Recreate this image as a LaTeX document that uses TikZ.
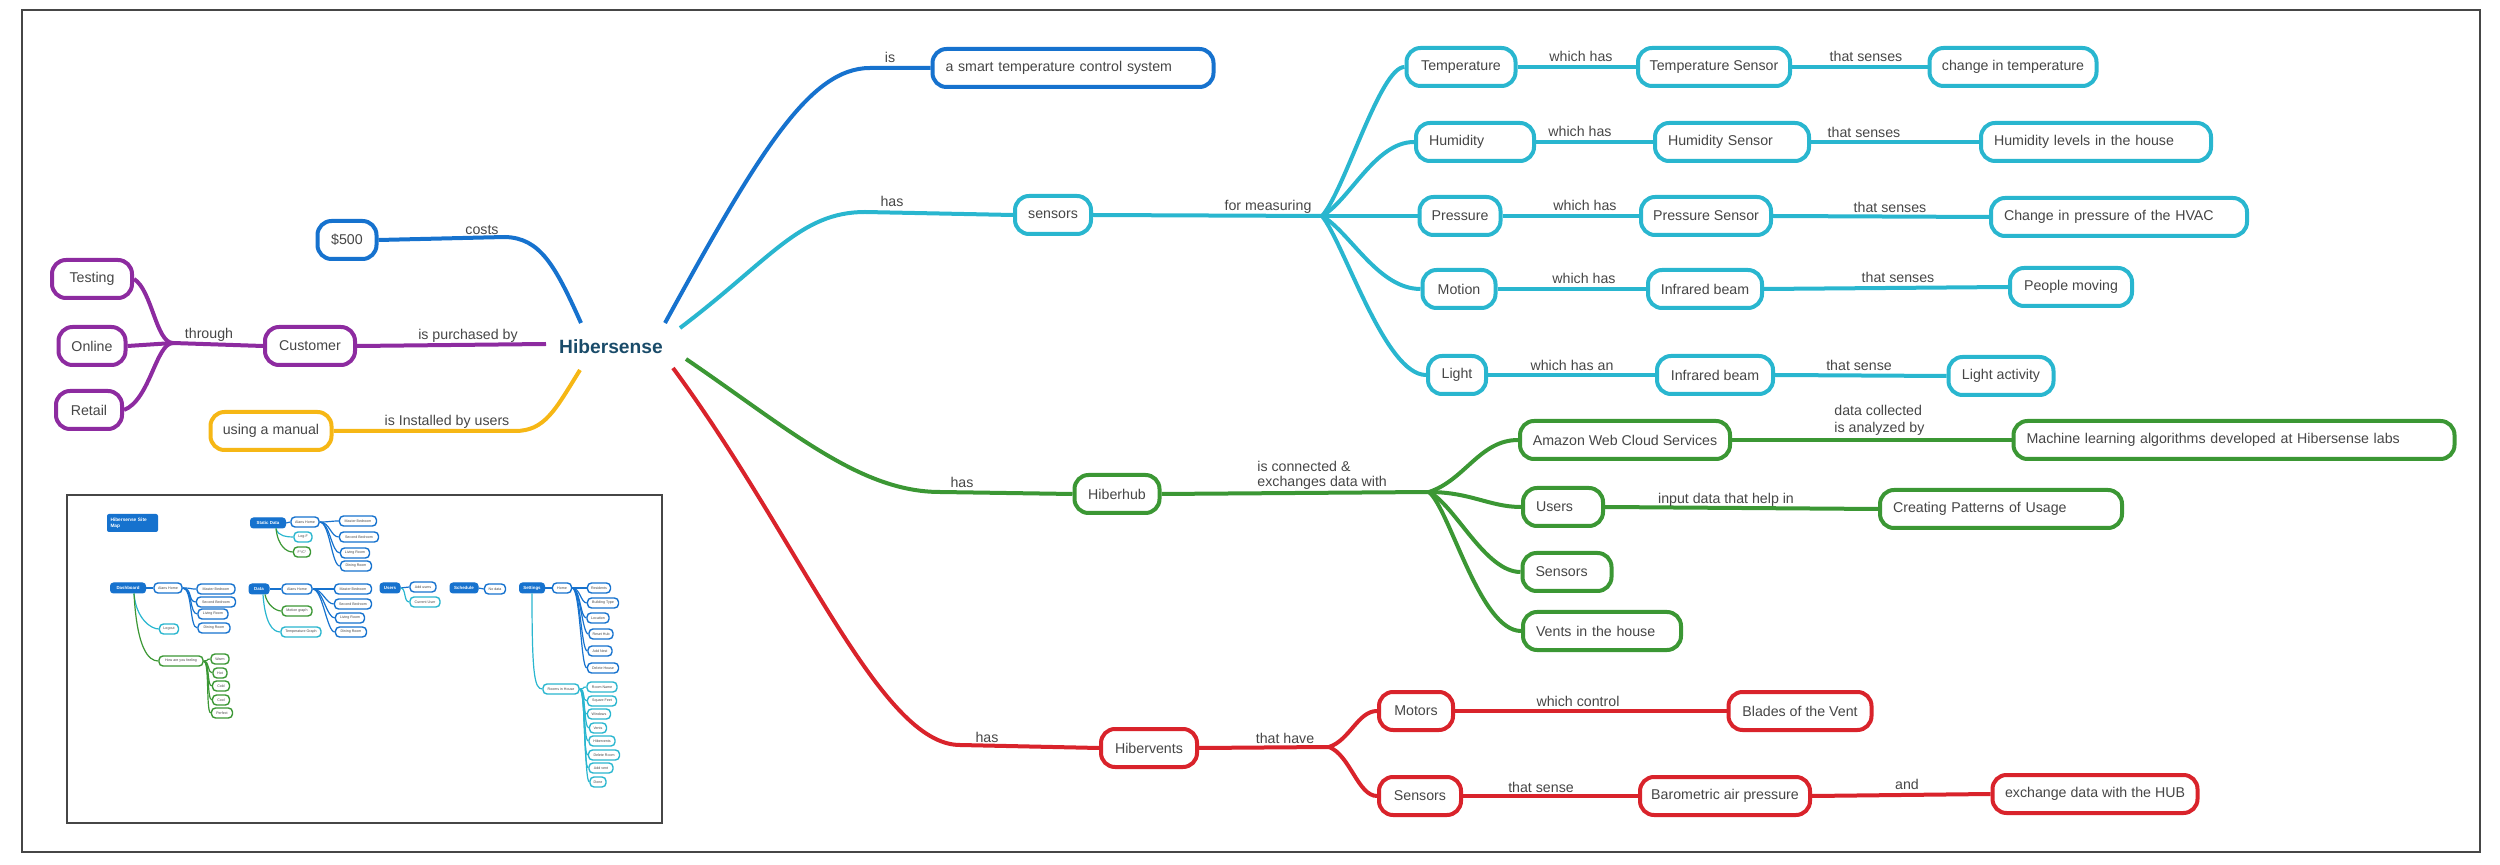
\documentclass[tikz,border=0pt]{standalone}
\usepackage{fontspec}
\setmainfont{Liberation Sans}
\definecolor{cblue}{RGB}{22,114,206}
\definecolor{ccyan}{RGB}{41,182,207}
\definecolor{cpurple}{RGB}{141,43,160}
\definecolor{cyellow}{RGB}{246,183,21}
\definecolor{cgreen}{RGB}{59,151,52}
\definecolor{cred}{RGB}{217,35,43}
\definecolor{ctext}{RGB}{70,70,70}
\definecolor{chib}{RGB}{25,75,105}
\definecolor{cframe}{RGB}{70,70,70}
\begin{document}
\begin{tikzpicture}[x=0.5pt,y=-0.5pt,
  mbox/.style={draw, line width=2pt, rounded corners=7pt, minimum height=19pt,
    inner xsep=0pt, inner ysep=0pt, font=\fontsize{7.1}{8.5}\selectfont, text=ctext, fill=white},
  lbox/.style={mbox, align=left, inner xsep=6.5pt, text width=#1},
  bw/.style={minimum width=#1},
  lab/.style={font=\fontsize{7.1}{8.5}\selectfont, text=ctext, inner sep=0pt, anchor=base},
  con/.style={line width=2pt},
  tn/.style={draw, line width=0.7pt, rounded corners=2pt, minimum height=5pt, inner sep=0pt,
    font=\fontsize{1.8}{2}\selectfont, text=ctext, fill=white},
  troot/.style={draw=cblue, fill=cblue, line width=0.5pt, rounded corners=1.5pt, minimum height=5pt,
    inner sep=0pt, font=\fontsize{2.2}{2.5}\selectfont\bfseries, text=white},
  te/.style={line width=0.6pt}]
\useasboundingbox (0,0) rectangle (2500,865);
\draw[cframe, line width=0.8pt] (22,10) rectangle (2480,852);

% ---------- central
\node[font=\fontsize{9.6}{11}\selectfont\bfseries, text=chib, inner sep=0pt] (hib) at (611,347) {Hibersense};
\coordinate (hA) at (665,323);
\coordinate (hB) at (581,323);
\coordinate (hC) at (546,344);
\coordinate (hD) at (580,370);
\coordinate (hE) at (680,328);
\coordinate (hF) at (686,359);
\coordinate (hG) at (673,368);

% ---------- left
\node[mbox, draw=cblue, bw=29.5pt] (p500) at (347,240) {\$500};
\node[mbox, draw=cpurple, bw=40pt] (testing) at (92,279) {Testing};
\node[mbox, draw=cpurple, bw=33.5pt] (online) at (92,346) {Online};
\node[mbox, draw=cpurple, bw=33pt] (retail) at (89,410) {Retail};
\node[mbox, draw=cpurple, bw=45pt] (customer) at (310,346) {Customer};
\node[mbox, draw=cyellow, bw=60.5pt] (manual) at (271,431) {using a manual};
\coordinate (J1) at (173,343);

\draw[con,cblue] (hB) .. controls (555,265) and (540,238) .. (505,237) -- (p500.east);
\draw[con,cpurple] (customer.east) -- (hC);
\draw[con,cpurple] (J1) -- (customer.west);
\draw[con,cpurple] (testing.east) .. controls (152,290) and (156,343) .. (J1);
\draw[con,cpurple] (online.east) -- (J1);
\draw[con,cpurple] (retail.east) .. controls (150,400) and (156,343) .. (J1);
\draw[con,cyellow] (hD) .. controls (555,410) and (545,431) .. (515,431) -- (manual.east);

\node[lab] (lcosts) at (482,235) {costs};
\node[lab] (lthrough) at (209,339) {through};
\node[lab] (lpurch) at (468,340) {is purchased by};
\node[lab] (linst) at (447,426) {is Installed by users};

% ---------- blue / cyan top
\node[lbox=127.5pt, draw=cblue] (smart) at (1073,68) {a smart temperature control system};
\draw[con,cblue] (hA) .. controls (760,150) and (810,68) .. (870,68) -- (smart.west);
\node[lab] (lis) at (890,63) {is};

\node[mbox, draw=ccyan, bw=38pt] (sensors) at (1053,215) {sensors};
\coordinate (J2) at (1322,216);
\node[mbox, draw=ccyan, bw=54.5pt] (temp) at (1461,67) {Temperature};
\node[lbox=46pt, draw=ccyan] (humid) at (1475,142) {Humidity};
\node[mbox, draw=ccyan, bw=40.5pt] (pressure) at (1460,216) {Pressure};
\node[mbox, draw=ccyan, bw=36.5pt] (motion) at (1459,289) {Motion};
\node[mbox, draw=ccyan, bw=29pt] (light) at (1457,375) {Light};
\node[mbox, draw=ccyan, bw=76pt] (tsensor) at (1714,67) {Temperature Sensor};
\node[lbox=64pt, draw=ccyan] (hsensor) at (1732,142) {Humidity Sensor};
\node[mbox, draw=ccyan, bw=65pt] (psensor) at (1706,216) {Pressure Sensor};
\node[mbox, draw=ccyan, bw=57pt] (ibeam1) at (1705,289) {Infrared beam};
\node[mbox, draw=ccyan, bw=58pt] (ibeam2) at (1715,375) {Infrared beam};
\node[mbox, draw=ccyan, bw=83.5pt] (chtemp) at (2013,67) {change in temperature};
\node[lbox=102pt, draw=ccyan] (humlev) at (2096,142) {Humidity levels in the house};
\node[lbox=115pt, draw=ccyan] (chpress) at (2119,217) {Change in pressure of the HVAC};
\node[mbox, draw=ccyan, bw=61pt] (people) at (2071,287) {People moving};
\node[mbox, draw=ccyan, bw=52.5pt] (lightact) at (2001,376) {Light activity};

\draw[con,ccyan] (hE) .. controls (770,260) and (800,212) .. (865,212) -- (sensors.west);
\draw[con,ccyan] (sensors.east) -- (J2);
\draw[con,ccyan] (J2) .. controls (1345,190) and (1380,67) .. (temp.west);
\draw[con,ccyan] (J2) .. controls (1350,200) and (1375,142) .. (humid.west);
\draw[con,ccyan] (J2) -- (pressure.west);
\draw[con,ccyan] (J2) .. controls (1350,232) and (1378,289) .. (motion.west);
\draw[con,ccyan] (J2) .. controls (1345,245) and (1385,375) .. (light.west);
\draw[con,ccyan] (temp.east) -- (tsensor.west);
\draw[con,ccyan] (tsensor.east) -- (chtemp.west);
\draw[con,ccyan] (humid.east) -- (hsensor.west);
\draw[con,ccyan] (hsensor.east) -- (humlev.west);
\draw[con,ccyan] (pressure.east) -- (psensor.west);
\draw[con,ccyan] (psensor.east) -- (chpress.west);
\draw[con,ccyan] (motion.east) -- (ibeam1.west);
\draw[con,ccyan] (ibeam1.east) -- (people.west);
\draw[con,ccyan] (light.east) -- (ibeam2.west);
\draw[con,ccyan] (ibeam2.east) -- (lightact.west);

\node[lab] (lhas1) at (892,207) {has};
\node[lab] (lfor) at (1268,211) {for measuring};
\node[lab] (lwh1) at (1581,62) {which has};
\node[lab] (lwh2) at (1580,137) {which has};
\node[lab] (lwh3) at (1585,211) {which has};
\node[lab] (lwh4) at (1584,284) {which has};
\node[lab] (lwh5) at (1572,371) {which has an};
\node[lab] (lts1) at (1866,62) {that senses};
\node[lab] (lts2) at (1864,138) {that senses};
\node[lab] (lts3) at (1890,213) {that senses};
\node[lab] (lts4) at (1898,283) {that senses};
\node[lab] (lts5) at (1859,371) {that sense};

% ---------- green
\node[mbox, draw=cgreen, bw=42.5pt] (hiberhub) at (1117,494) {Hiberhub};
\coordinate (J3) at (1429,492);
\node[mbox, draw=cgreen, bw=105pt] (amazon) at (1625,440) {Amazon Web Cloud Services};
\node[lbox=207.5pt, draw=cgreen] (ml) at (2234,440) {Machine learning algorithms developed at Hibersense labs};
\node[lbox=27pt, draw=cgreen] (users) at (1563,507) {Users};
\node[lbox=31.5pt, draw=cgreen] (sensorsg) at (1567,572) {Sensors};
\node[lbox=66pt, draw=cgreen] (vents) at (1602,631) {Vents in the house};
\node[lbox=108pt, draw=cgreen] (patterns) at (2001,509) {Creating Patterns of Usage};

\draw[con,cgreen] (hF) .. controls (790,430) and (860,492) .. (940,492) -- (hiberhub.west);
\draw[con,cgreen] (hiberhub.east) -- (J3);
\draw[con,cgreen] (J3) .. controls (1465,480) and (1480,440) .. (amazon.west);
\draw[con,cgreen] (J3) .. controls (1470,492) and (1490,507) .. (users.west);
\draw[con,cgreen] (J3) .. controls (1455,505) and (1485,572) .. (sensorsg.west);
\draw[con,cgreen] (J3) .. controls (1450,510) and (1480,631) .. (vents.west);
\draw[con,cgreen] (amazon.east) -- (ml.west);
\draw[con,cgreen] (users.east) -- (patterns.west);

\node[lab] (lhas2) at (962,488) {has};
\node[lab, anchor=base west] (lconn1) at (1257,472) {is connected \&};
\node[lab, anchor=base west] (lconn2) at (1257,487) {exchanges data with};
\node[lab, anchor=base west] (ldata1) at (1834,416) {data collected};
\node[lab, anchor=base west] (ldata2) at (1834,433) {is analyzed by};
\node[lab] (linput) at (1726,504) {input data that help in};

% ---------- red
\node[mbox, draw=cred, bw=48pt] (hibervents) at (1149,748) {Hibervents};
\coordinate (J4) at (1329,747);
\node[mbox, draw=cred, bw=37pt] (motors) at (1416,711) {Motors};
\node[mbox, draw=cred, bw=41pt] (sensorsr) at (1420,796) {Sensors};
\node[mbox, draw=cred, bw=71.5pt] (blades) at (1800,711) {Blades of the Vent};
\node[mbox, draw=cred, bw=85pt] (baro) at (1725,796) {Barometric air pressure};
\node[mbox, draw=cred, bw=102.5pt] (exch) at (2095,794) {exchange data with the HUB};

\draw[con,cred] (hG) .. controls (800,540) and (880,745) .. (960,745) -- (hibervents.west);
\draw[con,cred] (hibervents.east) -- (J4);
\draw[con,cred] (J4) .. controls (1350,740) and (1358,711) .. (motors.west);
\draw[con,cred] (J4) .. controls (1350,755) and (1358,796) .. (sensorsr.west);
\draw[con,cred] (motors.east) -- (blades.west);
\draw[con,cred] (sensorsr.east) -- (baro.west);
\draw[con,cred] (baro.east) -- (exch.west);

\node[lab] (lhas3) at (987,742) {has};
\node[lab] (lhave) at (1285,743) {that have};
\node[lab] (lctrl) at (1578,706) {which control};
\node[lab] (lsense) at (1541,792) {that sense};
\node[lab] (land) at (1907,789) {and};

% ---------- thumbnail site map
\draw[cframe, line width=0.8pt] (67,495) rectangle (662,823);
\node[fill=cblue, rounded corners=1pt, minimum width=25.5pt, minimum height=9pt, inner sep=1.5pt,
  text width=22pt, align=left, font=\fontsize{2.4}{2.9}\selectfont\bfseries, text=white] (smtitle) at (132.5,523) {Hibersense Site\\Map};

\node[troot, minimum width=17.5pt] (tstatic) at (268,523) {Static Data};
\node[tn, draw=cblue, minimum width=14pt] (salans) at (305,522) {Alans Home};
\node[tn, draw=cblue, minimum width=18.5pt] (smaster) at (358,521) {Master Bedroom};
\node[tn, draw=cblue, minimum width=19.5pt] (ssecond) at (359,537) {Second Bedroom};
\node[tn, draw=cblue, minimum width=14.5pt] (sliving) at (355,553) {Living Room};
\node[tn, draw=cblue, minimum width=15.5pt] (sdining) at (356,566) {Dining Room};
\node[tn, draw=ccyan, minimum width=9pt] (slogf) at (303,537) {Log-F};
\node[tn, draw=cgreen, minimum width=8.5pt] (sfc) at (302,552) {F°/C°};

\node[troot, minimum width=17.5pt] (tdash) at (128,588) {Dashboard};
\node[tn, draw=cblue, minimum width=14pt] (dalans) at (168,588) {Alans Home};
\node[tn, draw=cblue, minimum width=19pt] (dmaster) at (216,589) {Master Bedroom};
\node[tn, draw=cblue, minimum width=19.5pt] (dsecond) at (216,602) {Second Bedroom};
\node[tn, draw=cblue, minimum width=15pt] (dliving) at (213,614) {Living Room};
\node[tn, draw=cblue, minimum width=16pt] (ddining) at (214,628) {Dining Room};
\node[tn, draw=ccyan, minimum width=9.5pt] (dlogout) at (169,629) {Logout};
\node[tn, draw=cgreen, minimum width=22pt] (dhow) at (181,661) {How are you feeling};
\node[tn, draw=cgreen, minimum width=9pt] (twarm) at (220,659) {Warm};
\node[tn, draw=cgreen, minimum width=7pt] (thot) at (220,673) {Hot};
\node[tn, draw=cgreen, minimum width=8.5pt] (tcold) at (221,686) {Cold};
\node[tn, draw=cgreen, minimum width=8.5pt] (tcool) at (221,700) {Cool};
\node[tn, draw=cgreen, minimum width=10.5pt] (tperf) at (222,713) {Perfect};

\node[troot, minimum width=10pt] (tdata) at (259,589) {Data};
\node[tn, draw=cblue, minimum width=15pt] (aalans) at (297,589) {Alans Home};
\node[tn, draw=cblue, minimum width=18.5pt] (amaster) at (353,589) {Master Bedroom};
\node[tn, draw=cblue, minimum width=18.5pt] (asecond) at (353,604) {Second Bedroom};
\node[tn, draw=cblue, minimum width=14.5pt] (aliving) at (350,618) {Living Room};
\node[tn, draw=cblue, minimum width=15.5pt] (adining) at (351,632) {Dining Room};
\node[tn, draw=cgreen, minimum width=15pt] (amotion) at (297,611) {Motion graph};
\node[tn, draw=ccyan, minimum width=20pt] (atemp) at (301,632) {Temperature Graph};

\node[troot, minimum width=10pt] (tusers) at (390,588) {Users};
\node[tn, draw=cblue, minimum width=13pt] (uadd) at (423,587) {Add users};
\node[tn, draw=ccyan, minimum width=15pt] (ucur) at (425,602) {Current User};

\node[troot, minimum width=14pt] (tsched) at (464,588) {Schedule};
\node[tn, draw=cblue, minimum width=10.5pt] (nodata) at (495,589) {No data};

\node[troot, minimum width=12.5pt] (tsett) at (532,588) {Settings};
\node[tn, draw=cblue, minimum width=9.5pt] (thome) at (562,588) {Home};
\node[tn, draw=cblue, minimum width=11.5pt] (tresid) at (599,588) {Residents};
\node[tn, draw=cblue, minimum width=15.5pt] (tbuild) at (603,603) {Building Type};
\node[tn, draw=cblue, minimum width=11pt] (tloc) at (598,618) {Location};
\node[tn, draw=cblue, minimum width=12pt] (treset) at (601,634) {Reset Hub};
\node[tn, draw=cblue, minimum width=12pt] (taddnest) at (600,651) {Add Nest};
\node[tn, draw=cblue, minimum width=15.5pt] (tdelh) at (603,668) {Delete House};
\node[tn, draw=ccyan, minimum width=18pt] (trooms) at (561,689) {Rooms in House};
\node[tn, draw=ccyan, minimum width=15pt] (trname) at (602,687) {Room Name};
\node[tn, draw=ccyan, minimum width=14.5pt] (tsqft) at (602,701) {Square Feet};
\node[tn, draw=ccyan, minimum width=11.5pt] (twind) at (599,714) {Windows};
\node[tn, draw=ccyan, minimum width=8.5pt] (tvents) at (598,728) {Vents};
\node[tn, draw=ccyan, minimum width=13pt] (thib) at (602,741) {Hibervents};
\node[tn, draw=ccyan, minimum width=15.5pt] (tdelr) at (604,755) {Delete Room};
\node[tn, draw=ccyan, minimum width=12pt] (taddv) at (601,768) {Add vent};
\node[tn, draw=ccyan, minimum width=8pt] (tdone) at (598,782) {Done};

\draw[te,cblue] (tstatic.east) -- (salans.west);
\foreach \c in {smaster,ssecond,sliving,sdining}
  \draw[te,cblue] (salans.east) .. controls +(10,0) and +(-8,0) .. (\c.west);
\draw[te,ccyan] ([xshift=4pt]tstatic.south) .. controls +(2,8) and +(-6,0) .. (slogf.west);
\draw[te,cgreen] ([xshift=4pt]tstatic.south) .. controls +(2,18) and +(-6,0) .. (sfc.west);

\draw[te,cblue] (tdash.east) -- (dalans.west);
\foreach \c in {dmaster,dsecond,dliving,ddining}
  \draw[te,cblue] (dalans.east) .. controls +(10,0) and +(-8,0) .. (\c.west);
\draw[te,ccyan] ([xshift=3pt]tdash.south) .. controls +(2,25) and +(-8,0) .. (dlogout.west);
\draw[te,cgreen] ([xshift=3pt]tdash.south) .. controls +(3,55) and +(-10,0) .. (dhow.west);
\foreach \c in {twarm,thot,tcold,tcool,tperf}
  \draw[te,cgreen] (dhow.east) .. controls +(6,0) and +(-5,0) .. (\c.west);

\draw[te,cblue] (tdata.east) -- (aalans.west);
\foreach \c in {amaster,asecond,aliving,adining}
  \draw[te,cblue] (aalans.east) .. controls +(10,0) and +(-8,0) .. (\c.west);
\draw[te,cgreen] ([xshift=3pt]tdata.south) .. controls +(2,10) and +(-6,0) .. (amotion.west);
\draw[te,ccyan] ([xshift=2pt]tdata.south) .. controls +(2,28) and +(-8,0) .. (atemp.west);

\draw[te,cblue] (tusers.east) -- (uadd.west);
\draw[te,ccyan] (tusers.east) .. controls +(6,0) and +(-6,0) .. (ucur.west);
\draw[te,cblue] (tsched.east) -- (nodata.west);

\draw[te,cblue] (tsett.east) -- (thome.west);
\foreach \c in {tresid,tbuild,tloc,treset,taddnest,tdelh}
  \draw[te,cblue] (thome.east) .. controls +(8,0) and +(-6,0) .. (\c.west);
\draw[te,ccyan] (tsett.south) .. controls +(0,80) and +(-8,0) .. (trooms.west);
\foreach \c in {trname,tsqft,twind,tvents,thib,tdelr,taddv,tdone}
  \draw[te,ccyan] (trooms.east) .. controls +(6,0) and +(-5,0) .. (\c.west);
\end{tikzpicture}
\end{document}
